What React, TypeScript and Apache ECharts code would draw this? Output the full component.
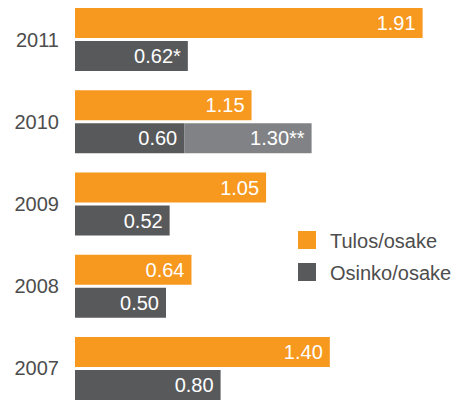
import React, { useEffect, useRef } from "react";
import * as echarts from "echarts";

const years = ["2007", "2008", "2009", "2010", "2011"];
// bar lengths (axis 0..2)
const tulosValues = [1.4, 0.64, 1.05, 0.97, 1.91];
const tulosLabels = ["1.40", "0.64", "1.05", "1.15", "1.91"];
const osinkoValues = [0.8, 0.5, 0.52, 0.6, 0.62];
const osinkoLabels = ["0.80", "0.50", "0.52", "0.60", "0.62*"];
const extraValues = [null, null, null, 0.7, null];
const extraLabels = ["", "", "", "1.30**", ""];

const FONT = "Liberation Sans";

export default function App() {
  const ref = useRef<HTMLDivElement>(null);
  useEffect(() => {
    if (!ref.current) return;
    const chart = echarts.init(ref.current, null, { renderer: "svg" });
    const labelBase = {
      show: true,
      position: "insideRight",
      distance: 7,
      color: "#ffffff",
      fontSize: 20,
      fontFamily: FONT,
      fontWeight: "normal",
    };
    chart.setOption({
      animation: false,
      backgroundColor: "#ffffff",
      grid: {
        left: 75,
        width: 364,
        top: -1.6,
        height: 411.2,
        containLabel: false,
        outerBoundsMode: "none",
      },
      xAxis: {
        type: "value",
        min: 0,
        max: 2,
        show: false,
      },
      yAxis: {
        type: "category",
        data: years,
        axisLine: { show: false },
        axisTick: { show: false },
        splitLine: { show: false },
        axisLabel: {
          color: "#4d4d4d",
          fontSize: 20,
          fontFamily: FONT,
          margin: 16,
        },
      },
      legend: {
        orient: "vertical",
        left: 293,
        top: 226,
        itemWidth: 18,
        itemHeight: 18,
        itemGap: 12,
        icon: "rect",
        data: ["Tulos/osake", "Osinko/osake"],
        formatter: (name: string) => `{t|${name}}`,
        textStyle: {
          color: "#4d4d4d",
          fontSize: 20,
          fontFamily: FONT,
          rich: {
            t: {
              color: "#4d4d4d",
              fontSize: 20,
              fontFamily: FONT,
              padding: [2, 0, 0, 9],
            },
          },
        },
      },
      series: [
        {
          name: "Tulos/osake",
          type: "bar",
          data: tulosValues,
          barWidth: 30,
          barGap: "10%",
          itemStyle: { color: "#f7981f" },
          label: { ...labelBase, formatter: (p: any) => tulosLabels[p.dataIndex] },
        },
        {
          name: "Osinko/osake",
          type: "bar",
          stack: "osinko",
          data: osinkoValues,
          barWidth: 30,
          barGap: "10%",
          itemStyle: { color: "#58595b" },
          label: { ...labelBase, formatter: (p: any) => osinkoLabels[p.dataIndex] },
        },
        {
          name: "Lisäosinko",
          type: "bar",
          stack: "osinko",
          data: extraValues,
          barWidth: 30,
          barGap: "10%",
          itemStyle: { color: "#808285" },
          label: { ...labelBase, formatter: (p: any) => extraLabels[p.dataIndex] },
        },
      ],
    });
    return () => chart.dispose();
  }, []);
  return (
    <div
      ref={ref}
      style={{ position: "fixed", left: 0, top: 0, width: 464, height: 400 }}
    />
  );
}
